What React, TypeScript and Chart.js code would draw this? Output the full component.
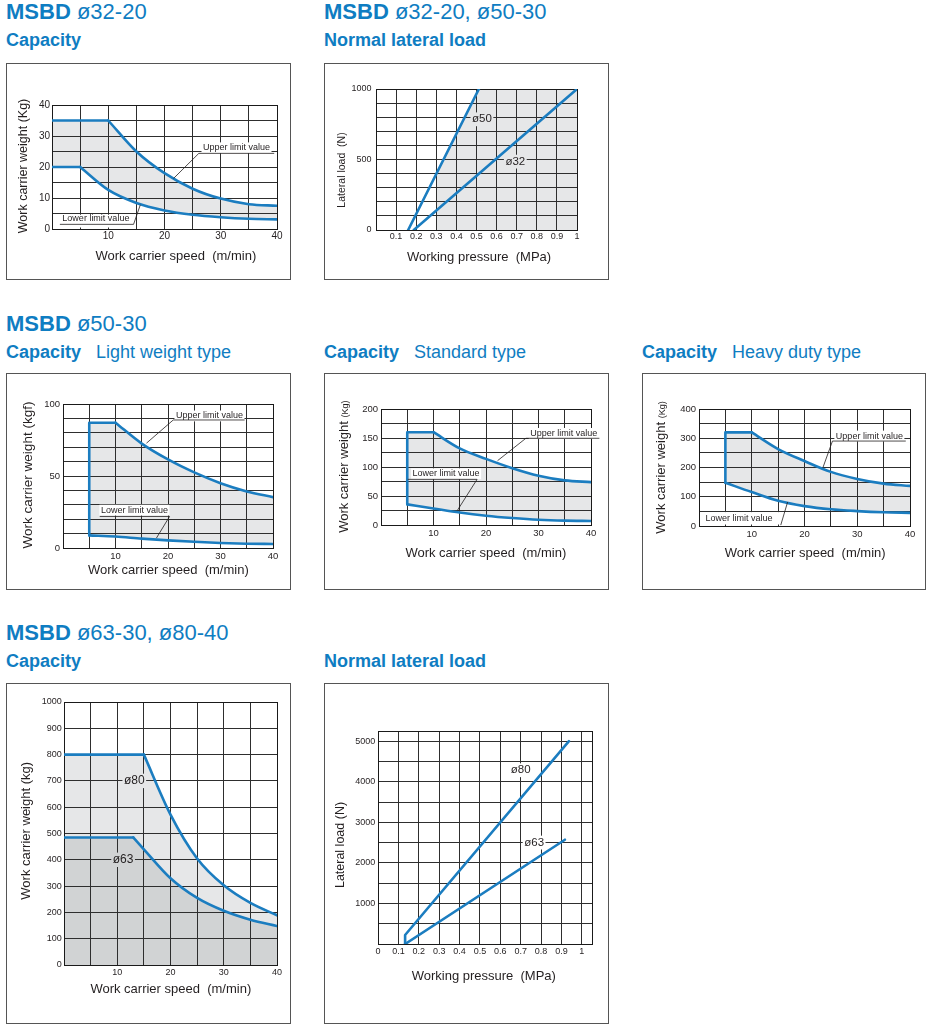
import React, { useEffect, useRef } from 'react';
import { Chart, registerables } from 'chart.js';

Chart.register(...registerables);

const FONT = '"Liberation Sans", Arial, Helvetica, sans-serif';
const BLUE = '#1b7dc0';
const HEAD_BLUE = '#0f7dc2';
const INK = '#231f20';
const FILL_LIGHT = '#e6e7e8';
const FILL_DARK = '#d1d3d4';
const GRID = '#2e2e2e';
const BOX_BORDER = '#555555';

Chart.defaults.font.family = FONT;

// ---------- Chart 1 : MSBD ø32-20 Capacity ----------
const c1UpperFlatX = [0, 10];
const c1UpperFlatY = [35, 35];
const c1UpperCurveX = [10, 15, 20, 25, 30, 35, 40];
const c1UpperCurveY = [35, 25, 18, 13, 9.8, 8, 7.5];
const c1LowerFlatX = [0, 5];
const c1LowerFlatY = [20, 20];
const c1LowerCurveX = [5, 10, 15, 20, 25, 30, 35, 40];
const c1LowerCurveY = [20, 12.6, 8.4, 6, 4.6, 3.8, 3.3, 3.1];
const c1XLabels = [10, 20, 30, 40];
const c1YLabels = [0, 10, 20, 30, 40];

// ---------- Chart 2 : MSBD ø32-20, ø50-30 Normal lateral load ----------
const c2D50X = [0.16, 0.512];
const c2D50Y = [0, 1000];
const c2D32X = [0.188, 1.0];
const c2D32Y = [0, 1000];
const c2ShadeFrom = 0.3;
const c2XLabels = [0.1, 0.2, 0.3, 0.4, 0.5, 0.6, 0.7, 0.8, 0.9, 1];
const c2YLabels = [0, 500, 1000];

// ---------- Chart 3 : MSBD ø50-30 Capacity, light weight type ----------
const c3UpperFlatX = [5, 5, 10];
const c3UpperFlatY = [8.8, 87, 87];
const c3UpperCurveX = [10, 15, 20, 25, 30, 35, 40];
const c3UpperCurveY = [87, 72.5, 61.5, 52.5, 45, 39.3, 35.3];
const c3LowerCurveX = [5, 10, 15, 20, 25, 30, 35, 40];
const c3LowerCurveY = [8.8, 8, 6.5, 5.3, 4.3, 3.5, 3, 2.8];
const c3XLabels = [10, 20, 30, 40];
const c3YLabels = [0, 50, 100];

// ---------- Chart 4 : Capacity, standard type ----------
const c4UpperFlatX = [5, 5, 10];
const c4UpperFlatY = [35.6, 160, 160];
const c4UpperCurveX = [10, 15, 20, 25, 30, 35, 40];
const c4UpperCurveY = [160, 132, 114, 98, 85, 77, 74];
const c4LowerCurveX = [5, 10, 15, 20, 25, 30, 35, 40];
const c4LowerCurveY = [35.6, 28.5, 21.5, 16, 12, 9, 7.5, 7];
const c4XLabels = [10, 20, 30, 40];
const c4YLabels = [0, 50, 100, 150, 200];

// ---------- Chart 5 : Capacity, heavy duty type ----------
const c5UpperFlatX = [5, 5, 10];
const c5UpperFlatY = [148, 320, 320];
const c5UpperCurveX = [10, 15, 20, 25, 30, 35, 40];
const c5UpperCurveY = [320, 263, 222, 185, 161, 145, 137];
const c5LowerCurveX = [5, 10, 15, 20, 25, 30, 35, 40];
const c5LowerCurveY = [148, 116, 86, 68, 57, 51, 47, 45];
const c5XLabels = [10, 20, 30, 40];
const c5YLabels = [0, 100, 200, 300, 400];

// ---------- Chart 6 : MSBD ø63-30, ø80-40 Capacity ----------
const c6D80FlatX = [0, 15];
const c6D80FlatY = [800, 800];
const c6D80CurveX = [15, 20, 25, 30, 35, 40];
const c6D80CurveY = [800, 572, 405, 303, 236, 189];
const c6D63FlatX = [0, 13];
const c6D63FlatY = [485, 485];
const c6D63CurveX = [13, 15, 20, 25, 30, 35, 40];
const c6D63CurveY = [485, 440, 330, 255, 206, 172, 148];
const c6XLabels = [10, 20, 30, 40];
const c6YLabels = [0, 100, 200, 300, 400, 500, 600, 700, 800, 900, 1000];

// ---------- Chart 7 : Normal lateral load ----------
const c7D80X = [0.133, 0.133, 0.937];
const c7D80Y = [0, 222, 5000];
const c7D63X = [0.133, 0.917];
const c7D63Y = [0, 2570];
const c7XLabels = [0, 0.1, 0.2, 0.3, 0.4, 0.5, 0.6, 0.7, 0.8, 0.9, 1];
const c7YLabels = [1000, 2000, 3000, 4000, 5000];

// ---------- types & helpers ----------
type Pt = { x: number; y: number };
const pts = (xs: number[], ys: number[]): Pt[] => xs.map((x, i) => ({ x, y: ys[i] }));

type DS = { data: Pt[]; curve?: boolean };
type Region = { parts: { ds: number; reverse?: boolean }[]; tail?: [number, number][]; clipMinX?: number; color: string };
type Note =
  | { kind: 'text'; text: string; x: number; y: number; size: number; bg?: string }
  | { kind: 'line'; pts: [number, number][] }
  | { kind: 'rect'; x1: number; y1: number; x2: number; y2: number };
type TitlePart = [string, number];
type AxisSpec = { min: number; max: number; step: number; labels: number[]; size: number; pad: number };
type Spec = {
  box: { left: number; top: number; w: number; h: number };
  area: { left: number; top: number; right: number; bottom: number };
  x: AxisSpec;
  y: AxisSpec;
  datasets: DS[];
  regions: Region[];
  notes: Note[];
  xTitle: { x: number; y: number; parts: TitlePart[] };
  yTitle: { x: number; y: number; parts: TitlePart[] };
};

const round6 = (v: number) => Math.round(v * 1e6) / 1e6;
function makeTicks(min: number, max: number, step: number) {
  const out: number[] = [];
  for (let i = 0; min + i * step <= max + 1e-9; i++) out.push(round6(min + i * step));
  return out;
}
const labelFor = (v: number, labels: number[]) =>
  labels.some((l) => Math.abs(l - v) < 1e-6) ? String(round6(v)) : '';

function drawParts(ctx: CanvasRenderingContext2D, parts: TitlePart[], mainSize: number) {
  let total = 0;
  parts.forEach(([t, s]) => {
    ctx.font = `${s}px ${FONT}`;
    total += ctx.measureText(t).width;
  });
  let cur = -total / 2;
  ctx.textAlign = 'left';
  ctx.textBaseline = 'alphabetic';
  parts.forEach(([t, s]) => {
    ctx.font = `${s}px ${FONT}`;
    ctx.fillText(t, cur, mainSize * 0.36);
    cur += ctx.measureText(t).width;
  });
}

function makePlugins(spec: Spec) {
  const px = (c: any, v: number) => c.scales.x.getPixelForValue(v);
  const py = (c: any, v: number) => c.scales.y.getPixelForValue(v);
  return [
    {
      id: 'regionFill',
      beforeDraw(chart: any) {
        const ctx = chart.ctx as CanvasRenderingContext2D;
        const a = chart.chartArea;
        spec.regions.forEach((r) => {
          ctx.save();
          ctx.beginPath();
          const left = r.clipMinX !== undefined ? px(chart, r.clipMinX) : a.left;
          ctx.rect(left, a.top, a.right - left, a.bottom - a.top);
          ctx.clip();
          ctx.beginPath();
          let first = true;
          r.parts.forEach((p) => {
            const line = chart.getDatasetMeta(p.ds).dataset;
            line.updateControlPoints(a, 'x');
            const segs = p.reverse ? [...line.segments].reverse() : line.segments;
            segs.forEach((seg: any) => {
              line.pathSegment(ctx, seg, { move: first, reverse: !!p.reverse });
              first = false;
            });
          });
          (r.tail || []).forEach(([x, y]) => ctx.lineTo(px(chart, x), py(chart, y)));
          ctx.closePath();
          ctx.fillStyle = r.color;
          ctx.fill();
          ctx.restore();
        });
      },
    },
    {
      id: 'frame',
      beforeDatasetsDraw(chart: any) {
        const ctx = chart.ctx as CanvasRenderingContext2D;
        const a = chart.chartArea;
        ctx.save();
        ctx.strokeStyle = '#1a1a1a';
        ctx.lineWidth = 1;
        const l = Math.round(a.left), t = Math.round(a.top), r = Math.round(a.right), b = Math.round(a.bottom);
        ctx.strokeRect(l + 0.5, t + 0.5, r - l, b - t);
        ctx.restore();
      },
    },
    {
      id: 'notes',
      afterDatasetsDraw(chart: any) {
        const ctx = chart.ctx as CanvasRenderingContext2D;
        const a = chart.chartArea;
        ctx.save();
        spec.notes.forEach((n) => {
          if (n.kind === 'rect') {
            const x1 = Math.max(px(chart, n.x1), a.left + 1.5);
            const x2 = Math.min(px(chart, n.x2), a.right - 1.5);
            const yT = Math.max(py(chart, n.y2), a.top + 1.5);
            const yB = Math.min(py(chart, n.y1), a.bottom - 1.5);
            ctx.fillStyle = '#ffffff';
            ctx.fillRect(x1, yT, x2 - x1, yB - yT);
          } else if (n.kind === 'line') {
            ctx.beginPath();
            n.pts.forEach(([x, y], i) => {
              const X = px(chart, x), Y = py(chart, y);
              if (i === 0) ctx.moveTo(X, Y);
              else ctx.lineTo(X, Y);
            });
            ctx.strokeStyle = INK;
            ctx.lineWidth = 0.8;
            ctx.stroke();
          } else {
            const X = px(chart, n.x), Y = py(chart, n.y);
            ctx.font = `${n.size}px ${FONT}`;
            const w = ctx.measureText(n.text).width;
            if (n.bg) {
              ctx.fillStyle = n.bg;
              ctx.fillRect(X - w / 2 - 1.5, Y - n.size * 0.6, w + 3, n.size * 1.2);
            }
            ctx.fillStyle = INK;
            ctx.textAlign = 'center';
            ctx.textBaseline = 'middle';
            ctx.fillText(n.text, X, Y);
          }
        });
        ctx.restore();
      },
    },
    {
      id: 'axisTitles',
      afterDraw(chart: any) {
        const ctx = chart.ctx as CanvasRenderingContext2D;
        ctx.save();
        ctx.fillStyle = INK;
        ctx.translate(spec.xTitle.x, spec.xTitle.y);
        drawParts(ctx, spec.xTitle.parts, spec.xTitle.parts[0][1]);
        ctx.restore();
        ctx.save();
        ctx.fillStyle = INK;
        ctx.translate(spec.yTitle.x, spec.yTitle.y);
        ctx.rotate(-Math.PI / 2);
        drawParts(ctx, spec.yTitle.parts, spec.yTitle.parts[0][1]);
        ctx.restore();
      },
    },
  ];
}

function axis(a: AxisSpec, isX: boolean, fitSize: number) {
  return {
    type: 'linear',
    position: isX ? 'bottom' : 'left',
    min: a.min,
    max: a.max,
    bounds: 'data',
    afterBuildTicks: (s: any) => {
      s.ticks = makeTicks(a.min, a.max, a.step).map((v) => ({ value: v }));
    },
    afterFit: (s: any) => {
      if (isX) s.height = fitSize;
      else s.width = fitSize;
    },
    ticks: {
      autoSkip: false,
      maxRotation: 0,
      minRotation: 0,
      padding: a.pad,
      color: INK,
      stepSize: a.step,
      font: { size: a.size, family: FONT },
      callback: (v: any) => labelFor(Number(v), a.labels),
    },
    grid: { color: GRID, lineWidth: 1, drawTicks: false },
    border: { display: false },
    title: { display: false },
  };
}

function buildConfig(spec: Spec, cw: number, ch: number) {
  return {
    type: 'line',
    data: {
      datasets: spec.datasets.map((d) => ({
        data: d.data,
        borderColor: BLUE,
        borderWidth: 2.6,
        pointRadius: 0,
        pointHoverRadius: 0,
        fill: false,
        tension: 0,
        cubicInterpolationMode: d.curve ? 'monotone' : 'default',
        borderCapStyle: 'round',
        borderJoinStyle: 'round',
      })),
    },
    options: {
      responsive: false,
      animation: false,
      devicePixelRatio: 1,
      events: [],
      layout: { padding: { left: 0, top: spec.area.top, right: cw - spec.area.right, bottom: 0 } },
      plugins: { legend: { display: false }, tooltip: { enabled: false } },
      scales: {
        x: axis(spec.x, true, ch - spec.area.bottom),
        y: axis(spec.y, false, spec.area.left),
      },
    },
    plugins: makePlugins(spec),
  };
}

// ---------- specs ----------
const speedTitle: TitlePart[] = [['Work carrier speed  (m/min)', 13]];
const pressureTitle: TitlePart[] = [['Working pressure  (MPa)', 13]];

const spec1: Spec = {
  box: { left: 6, top: 63, w: 285, h: 217 },
  area: { left: 45, top: 41, right: 270, bottom: 165 },
  x: { min: 0, max: 40, step: 5, labels: c1XLabels, size: 10, pad: 1.5 },
  y: { min: 0, max: 40, step: 5, labels: c1YLabels, size: 10, pad: 2 },
  datasets: [
    { data: pts(c1UpperFlatX, c1UpperFlatY) },
    { data: pts(c1UpperCurveX, c1UpperCurveY), curve: true },
    { data: pts(c1LowerFlatX, c1LowerFlatY) },
    { data: pts(c1LowerCurveX, c1LowerCurveY), curve: true },
  ],
  regions: [{ parts: [{ ds: 0 }, { ds: 1 }, { ds: 3, reverse: true }, { ds: 2, reverse: true }], color: FILL_LIGHT }],
  notes: [
    { kind: 'text', text: 'Upper limit value', x: 32.8, y: 26.2, size: 9, bg: '#ffffff' },
    { kind: 'line', pts: [[39.5, 24.4], [26.1, 24.4], [21.6, 16.3]] },
    { kind: 'rect', x1: 0, y1: 0, x2: 14.5, y2: 4.6 },
    { kind: 'text', text: 'Lower limit value', x: 7.8, y: 3.3, size: 9 },
    { kind: 'line', pts: [[1.4, 1.5], [14.5, 1.5], [15.7, 7.8]] },
  ],
  xTitle: { x: 168.8, y: 191, parts: speedTitle },
  yTitle: { x: 15, y: 102, parts: [['Work carrier weight (Kg)', 12.5]] },
};

const spec2: Spec = {
  box: { left: 324, top: 63, w: 285, h: 217 },
  area: { left: 51, top: 25, right: 252, bottom: 166 },
  x: { min: 0, max: 1, step: 0.1, labels: c2XLabels, size: 9, pad: 1 },
  y: { min: 0, max: 1000, step: 100, labels: c2YLabels, size: 9, pad: 4.5 },
  datasets: [{ data: pts(c2D50X, c2D50Y) }, { data: pts(c2D32X, c2D32Y) }],
  regions: [{ parts: [{ ds: 0 }], tail: [[1, 1000], [1, 0]], clipMinX: c2ShadeFrom, color: FILL_LIGHT }],
  notes: [
    { kind: 'text', text: 'ø50', x: 0.527, y: 785, size: 11.5, bg: FILL_LIGHT },
    { kind: 'text', text: 'ø32', x: 0.693, y: 485, size: 11.5, bg: FILL_LIGHT },
  ],
  xTitle: { x: 154, y: 192, parts: pressureTitle },
  yTitle: { x: 16.3, y: 106, parts: [['Lateral load  (N)', 10.5]] },
};

const spec3: Spec = {
  box: { left: 6, top: 373, w: 285, h: 217 },
  area: { left: 56, top: 30, right: 266, bottom: 174 },
  x: { min: 0, max: 40, step: 5, labels: c3XLabels, size: 9.5, pad: 2.5 },
  y: { min: 0, max: 100, step: 10, labels: c3YLabels, size: 9.5, pad: 3 },
  datasets: [
    { data: pts(c3UpperFlatX, c3UpperFlatY) },
    { data: pts(c3UpperCurveX, c3UpperCurveY), curve: true },
    { data: pts(c3LowerCurveX, c3LowerCurveY), curve: true },
  ],
  regions: [{ parts: [{ ds: 0 }, { ds: 1 }, { ds: 2, reverse: true }], color: FILL_LIGHT }],
  notes: [
    { kind: 'text', text: 'Upper limit value', x: 27.9, y: 91.7, size: 9, bg: '#ffffff' },
    { kind: 'line', pts: [[34.6, 88.9], [21, 88.9], [15.9, 72.8]] },
    { kind: 'text', text: 'Lower limit value', x: 13.6, y: 26.3, size: 9, bg: '#ffffff' },
    { kind: 'line', pts: [[7, 21.9], [20.3, 21.9], [17.8, 6.9]] },
  ],
  xTitle: { x: 161.3, y: 195, parts: speedTitle },
  yTitle: { x: 20.5, y: 101, parts: [['Work carrier weight (kgf)', 13.5]] },
};

const spec4: Spec = {
  box: { left: 324, top: 373, w: 285, h: 217 },
  area: { left: 56, top: 35, right: 266, bottom: 151 },
  x: { min: 0, max: 40, step: 5, labels: c4XLabels, size: 9.5, pad: 2.3 },
  y: { min: 0, max: 200, step: 25, labels: c4YLabels, size: 9.5, pad: 3 },
  datasets: [
    { data: pts(c4UpperFlatX, c4UpperFlatY) },
    { data: pts(c4UpperCurveX, c4UpperCurveY), curve: true },
    { data: pts(c4LowerCurveX, c4LowerCurveY), curve: true },
  ],
  regions: [{ parts: [{ ds: 0 }, { ds: 1 }, { ds: 2, reverse: true }], color: FILL_LIGHT }],
  notes: [
    { kind: 'text', text: 'Upper limit value', x: 34.8, y: 158, size: 9, bg: '#ffffff' },
    { kind: 'line', pts: [[41.6, 149.5], [27.6, 149.5], [22.2, 110.9]] },
    { kind: 'text', text: 'Lower limit value', x: 12.4, y: 88.4, size: 9, bg: '#ffffff' },
    { kind: 'line', pts: [[5.1, 78.7], [18.3, 78.7], [14.6, 25.9]] },
  ],
  xTitle: { x: 160.8, y: 178.5, parts: speedTitle },
  yTitle: { x: 18.8, y: 92.7, parts: [['Work carrier weight ', 13], ['(Kg)', 9]] },
};

const spec5: Spec = {
  box: { left: 642, top: 373, w: 284, h: 217 },
  area: { left: 56, top: 35, right: 267, bottom: 152 },
  x: { min: 0, max: 40, step: 5, labels: c5XLabels, size: 9.5, pad: 2.3 },
  y: { min: 0, max: 400, step: 50, labels: c5YLabels, size: 9.5, pad: 3 },
  datasets: [
    { data: pts(c5UpperFlatX, c5UpperFlatY) },
    { data: pts(c5UpperCurveX, c5UpperCurveY), curve: true },
    { data: pts(c5LowerCurveX, c5LowerCurveY), curve: true },
  ],
  regions: [{ parts: [{ ds: 0 }, { ds: 1 }, { ds: 2, reverse: true }], color: FILL_LIGHT }],
  notes: [
    { kind: 'text', text: 'Upper limit value', x: 32.3, y: 307.6, size: 9, bg: '#ffffff' },
    { kind: 'line', pts: [[39.2, 290.4], [25.3, 290.4], [23.5, 200]] },
    { kind: 'rect', x1: 0, y1: 0, x2: 15.6, y2: 47.5 },
    { kind: 'text', text: 'Lower limit value', x: 7.6, y: 24, size: 9 },
    { kind: 'line', pts: [[15.5, 3], [16.8, 82]] },
  ],
  xTitle: { x: 162.2, y: 178.5, parts: speedTitle },
  yTitle: { x: 17, y: 93.5, parts: [['Work carrier weight ', 13], ['(Kg)', 9]] },
};

const spec6: Spec = {
  box: { left: 6, top: 683, w: 285, h: 341 },
  area: { left: 57, top: 18, right: 270, bottom: 281 },
  x: { min: 0, max: 40, step: 5, labels: c6XLabels, size: 9, pad: 2.3 },
  y: { min: 0, max: 1000, step: 100, labels: c6YLabels, size: 9, pad: 2.3 },
  datasets: [
    { data: pts(c6D80FlatX, c6D80FlatY) },
    { data: pts(c6D80CurveX, c6D80CurveY), curve: true },
    { data: pts(c6D63FlatX, c6D63FlatY) },
    { data: pts(c6D63CurveX, c6D63CurveY), curve: true },
  ],
  regions: [
    { parts: [{ ds: 0 }, { ds: 1 }], tail: [[40, 0], [0, 0]], color: FILL_LIGHT },
    { parts: [{ ds: 2 }, { ds: 3 }], tail: [[40, 0], [0, 0]], color: FILL_DARK },
  ],
  notes: [
    { kind: 'text', text: 'ø80', x: 13.2, y: 700, size: 12, bg: FILL_LIGHT },
    { kind: 'text', text: 'ø63', x: 11.1, y: 400, size: 12, bg: FILL_DARK },
  ],
  xTitle: { x: 163.8, y: 304.3, parts: speedTitle },
  yTitle: { x: 18, y: 146.8, parts: [['Work carrier weight (kg)', 13]] },
};

const spec7: Spec = {
  box: { left: 324, top: 683, w: 285, h: 341 },
  area: { left: 53, top: 47, right: 267, bottom: 260 },
  x: { min: 0, max: 1.05, step: 0.1, labels: c7XLabels, size: 9, pad: 2.3 },
  y: { min: 0, max: 5250, step: 500, labels: c7YLabels, size: 9, pad: 2.7 },
  datasets: [{ data: pts(c7D80X, c7D80Y) }, { data: pts(c7D63X, c7D63Y) }],
  regions: [],
  notes: [
    { kind: 'text', text: 'ø80', x: 0.7, y: 4283, size: 11.5, bg: '#ffffff' },
    { kind: 'text', text: 'ø63', x: 0.766, y: 2500, size: 11.5, bg: '#ffffff' },
  ],
  xTitle: { x: 158.8, y: 291.8, parts: pressureTitle },
  yTitle: { x: 14.7, y: 161, parts: [['Lateral load (N)', 12.5]] },
};

function ChartPanel({ spec }: { spec: Spec }) {
  const ref = useRef<HTMLCanvasElement | null>(null);
  const cw = spec.box.w - 2;
  const ch = spec.box.h - 2;
  useEffect(() => {
    if (!ref.current) return;
    const chart = new Chart(ref.current, buildConfig(spec, cw, ch) as any);
    return () => chart.destroy();
  }, []);
  return (
    <div
      style={{
        position: 'absolute',
        left: spec.box.left,
        top: spec.box.top,
        width: spec.box.w,
        height: spec.box.h,
        border: `1px solid ${BOX_BORDER}`,
        boxSizing: 'border-box',
        background: '#fff',
      }}
    >
      <canvas ref={ref} width={cw} height={ch} style={{ display: 'block', width: cw, height: ch }} />
    </div>
  );
}

const headStyle = (left: number, top: number, size: number): React.CSSProperties => ({
  position: 'absolute',
  left,
  top,
  fontSize: size,
  lineHeight: `${size}px`,
  color: HEAD_BLUE,
  fontFamily: FONT,
  whiteSpace: 'nowrap',
  margin: 0,
});

function Title({ left, top, model }: { left: number; top: number; model: string }) {
  return (
    <div style={headStyle(left, top, 22)}>
      <b>MSBD</b> {model}
    </div>
  );
}

function Sub({ left, top, bold, extra }: { left: number; top: number; bold: string; extra?: string }) {
  return (
    <div style={headStyle(left, top, 18)}>
      <b>{bold}</b>
      {extra ? <span style={{ marginLeft: 15 }}>{extra}</span> : null}
    </div>
  );
}

export default function App() {
  return (
    <div style={{ position: 'absolute', left: 0, top: 0, width: 931, height: 1028, overflow: 'hidden', background: '#fff', fontFamily: FONT }}>
      <Title left={6} top={1.4} model="ø32-20" />
      <Sub left={6} top={30.5} bold="Capacity" />
      <Title left={324} top={1.4} model="ø32-20, ø50-30" />
      <Sub left={324} top={30.5} bold="Normal lateral load" />

      <Title left={6} top={313.4} model="ø50-30" />
      <Sub left={6} top={343.3} bold="Capacity" extra="Light weight type" />
      <Sub left={324} top={343.3} bold="Capacity" extra="Standard type" />
      <Sub left={642} top={343.3} bold="Capacity" extra="Heavy duty type" />

      <Title left={6} top={621.7} model="ø63-30, ø80-40" />
      <Sub left={6} top={651.8} bold="Capacity" />
      <Sub left={324} top={651.8} bold="Normal lateral load" />

      <ChartPanel spec={spec1} />
      <ChartPanel spec={spec2} />
      <ChartPanel spec={spec3} />
      <ChartPanel spec={spec4} />
      <ChartPanel spec={spec5} />
      <ChartPanel spec={spec6} />
      <ChartPanel spec={spec7} />
    </div>
  );
}
